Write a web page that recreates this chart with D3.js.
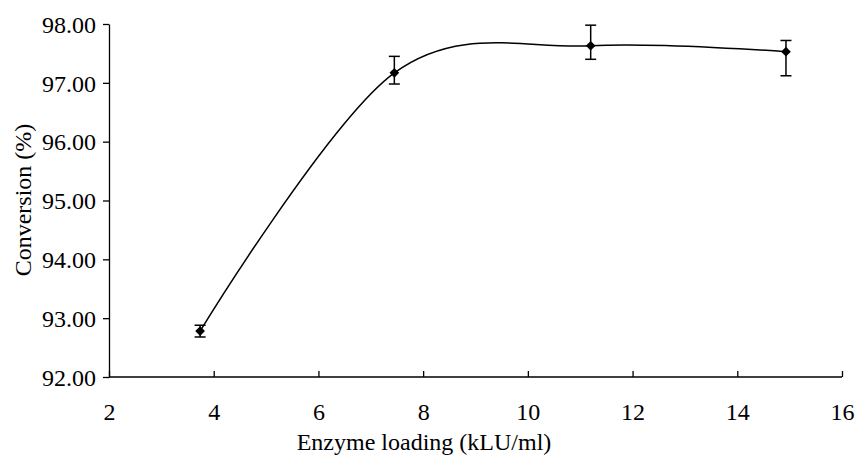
<!DOCTYPE html>
<html><head><meta charset="utf-8">
<script src="https://cdn.jsdelivr.net/npm/d3@7"></script>
<style>body{margin:0;background:#fff}</style>
</head><body>
<svg id="c" width="857" height="455"></svg>
<script>
const xValues = [3.74, 7.45, 11.2, 14.93];
const yValues = [92.78, 97.17, 97.63, 97.53];
const errUp = [0.10, 0.28, 0.35, 0.19];
const errDown = [0.10, 0.19, 0.23, 0.41];
const xTicks = [2, 4, 6, 8, 10, 12, 14, 16];
const yTicks = [92, 93, 94, 95, 96, 97, 98];

const FONT = "'Liberation Serif', 'Times New Roman', Times, serif";
const svg = d3.select("#c");
const x = d3.scaleLinear().domain([2, 16]).range([109, 842]);
const y = d3.scaleLinear().domain([92, 98]).range([377, 24]);

const xa = svg.append("g").attr("transform", "translate(0,377)")
  .call(d3.axisBottom(x).tickValues(xTicks).tickSize(-6).tickSizeOuter(0).tickPadding(26).tickFormat(d3.format("d")));
const ya = svg.append("g").attr("transform", "translate(109,0)")
  .call(d3.axisLeft(y).tickValues(yTicks).tickSize(6).tickSizeOuter(0).tickPadding(7).tickFormat(d3.format(".2f")));
[xa, ya].forEach(a => {
  a.attr("font-family", FONT).attr("font-size", 24);
  a.selectAll("path,line").attr("stroke", "#000").attr("stroke-width", 1.3);
  a.selectAll("text").attr("fill", "#000");
});
xa.selectAll(".tick text").attr("dy", null).attr("y", 43);
ya.selectAll(".tick text").attr("dy", "0.34em");
xa.select(".domain").attr("d", "M109,0H842");

const pts = xValues.map((v, i) => [v, yValues[i]]);
svg.append("path").datum(pts)
  .attr("fill", "none").attr("stroke", "#000").attr("stroke-width", 1.5)
  .attr("d", d3.line().x(d => x(d[0])).y(d => y(d[1])).curve(d3.curveCardinal.tension(0)));

const eb = svg.append("g").attr("stroke", "#000").attr("stroke-width", 1.5);
pts.forEach((p, i) => {
  const cx = x(p[0]);
  const t = y(p[1] + errUp[i]), b = y(p[1] - errDown[i]);
  eb.append("line").attr("x1", cx).attr("x2", cx).attr("y1", t).attr("y2", b);
  eb.append("line").attr("x1", cx - 5.5).attr("x2", cx + 5.5).attr("y1", t).attr("y2", t);
  eb.append("line").attr("x1", cx - 5.5).attr("x2", cx + 5.5).attr("y1", b).attr("y2", b);
});
svg.append("g").selectAll("path").data(pts).join("path")
  .attr("transform", d => `translate(${x(d[0])},${y(d[1])})`)
  .attr("d", d3.symbol().type(d3.symbolDiamond2).size(60)).attr("fill", "#000");

svg.append("text").attr("x", 424).attr("y", 450).attr("text-anchor", "middle")
  .attr("font-family", FONT).attr("font-size", 24).text("Enzyme loading (kLU/ml)");
svg.append("text").attr("transform", "translate(31,200) rotate(-90)").attr("text-anchor", "middle")
  .attr("font-family", FONT).attr("font-size", 24).text("Conversion (%)");
</script>
</body></html>
